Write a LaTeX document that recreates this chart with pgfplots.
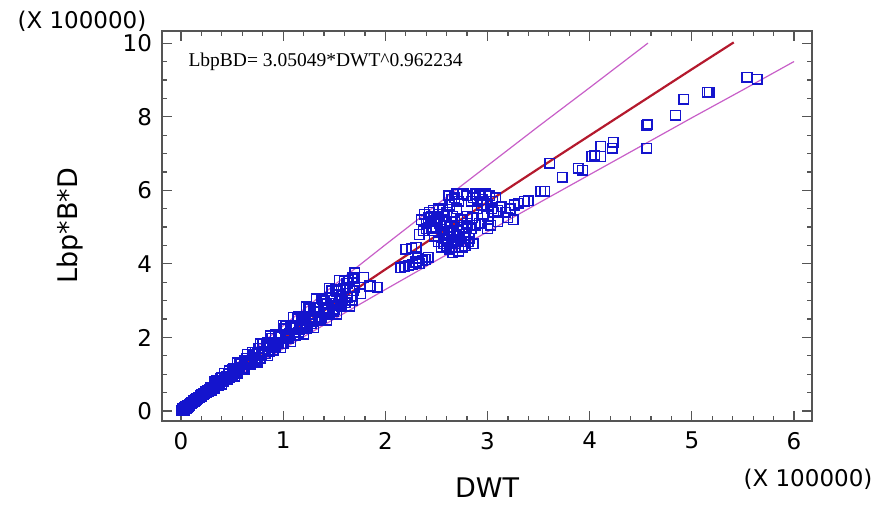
\documentclass[border=0pt]{standalone}
\usepackage{pgfplots}
\pgfplotsset{compat=1.18}
\usepackage{pgfplotstable}
\usepackage{fontspec}
\setmainfont{DejaVu Sans}
\newfontfamily\eqfont{Liberation Serif}
\definecolor{markblue}{RGB}{20,20,205}
\definecolor{fitred}{RGB}{180,25,45}
\definecolor{bandviolet}{RGB}{200,95,200}
\definecolor{framegray}{RGB}{85,85,85}

\pgfplotstableread{
x y
0.005 0.012
0.010 0.025
0.015 0.045
0.020 0.050
0.025 0.070
0.030 0.060
0.035 0.085
0.040 0.095
0.045 0.100
0.050 0.115
0.055 0.120
0.060 0.140
0.065 0.135
0.070 0.160
0.075 0.155
0.080 0.180
0.090 0.195
0.095 0.215
0.100 0.205
0.110 0.240
0.115 0.230
0.125 0.270
0.130 0.265
0.140 0.300
0.150 0.315
0.155 0.340
0.165 0.345
0.170 0.370
0.180 0.380
0.190 0.410
0.200 0.400
0.205 0.445
0.215 0.440
0.220 0.480
0.230 0.470
0.240 0.520
0.250 0.500
0.255 0.550
0.265 0.540
0.275 0.590
0.285 0.570
0.290 0.630
0.010 0.005
0.020 0.015
0.030 0.030
0.040 0.060
0.050 0.070
0.060 0.100
0.070 0.120
0.080 0.140
0.100 0.240
0.120 0.290
0.015 0.080
0.030 0.100
0.045 0.130
0.300 0.651
0.300 0.552
0.325 0.623
0.325 0.791
0.350 0.820
0.350 0.733
0.375 0.754
0.375 0.731
0.400 0.728
0.400 0.900
0.425 1.023
0.425 0.910
0.450 0.934
0.450 0.852
0.475 0.917
0.475 1.100
0.500 1.115
0.500 0.994
0.525 1.116
0.525 0.946
0.550 1.033
0.550 1.311
0.575 1.322
0.575 1.183
0.600 1.184
0.600 1.148
0.625 1.119
0.625 1.383
0.650 1.540
0.650 1.370
0.675 1.380
0.675 1.258
0.700 1.331
0.700 1.597
0.725 1.594
0.725 1.420
0.750 1.572
0.750 1.332
0.775 1.438
0.775 1.824
0.800 1.817
0.800 1.626
0.825 1.609
0.825 1.560
0.850 1.503
0.850 1.858
0.875 2.050
0.875 1.824
0.900 1.821
0.900 1.660
0.925 1.741
0.925 2.090
0.950 2.068
0.950 1.842
0.975 2.024
0.975 1.716
1.000 1.837
1.000 2.331
1.025 2.306
1.025 2.063
1.050 2.029
1.050 1.967
1.075 1.885
1.075 2.330
1.100 2.555
1.100 2.273
1.125 2.256
1.125 2.057
1.150 2.146
1.150 2.575
1.175 2.538
1.175 2.261
1.200 2.472
1.200 2.095
1.225 2.233
1.225 2.833
1.250 2.791
1.250 2.497
1.275 2.445
1.275 2.370
1.300 2.262
1.300 2.796
1.325 3.055
1.325 2.718
1.350 2.689
1.350 2.451
1.375 2.549
1.375 3.059
1.400 3.003
1.400 2.675
1.425 2.916
1.425 2.472
1.450 2.626
1.450 3.332
1.475 3.273
1.475 2.928
1.500 2.859
1.500 2.771
1.525 2.638
1.525 3.260
1.550 3.553
1.550 3.162
1.575 3.119
1.575 2.844
1.600 2.949
1.600 3.539
1.625 3.466
1.625 3.088
1.650 3.357
1.650 2.845
1.675 3.017
1.675 3.633
1.700 3.751
1.700 3.356
0.3125 0.645
0.3375 0.750
0.3625 0.699
0.3875 0.889
0.4125 0.817
0.4375 0.892
0.4625 1.016
0.4875 0.930
0.5125 1.163
0.5375 1.054
0.5625 1.136
0.5875 1.279
0.6125 1.159
0.6375 1.435
0.6625 1.289
0.6875 1.377
0.7125 1.539
0.7375 1.385
0.7625 1.704
0.7875 1.523
0.8125 1.618
0.8375 1.799
0.8625 1.610
0.8875 1.972
0.9125 1.755
0.9375 1.857
0.9625 2.056
0.9875 1.834
1.0125 2.239
1.0375 1.985
1.0625 2.094
1.0875 2.313
1.1125 2.057
1.1375 2.504
1.1625 2.215
1.1875 2.331
1.2125 2.568
1.2375 2.279
1.2625 2.768
1.2875 2.443
1.3125 2.566
1.3375 2.822
1.3625 2.500
1.3875 3.031
1.4125 2.671
1.4375 2.801
1.4625 3.075
1.4875 2.720
1.5125 3.293
1.5375 2.898
1.5625 3.035
1.5875 3.327
1.6125 2.940
1.6375 3.555
1.6625 3.124
1.6875 3.267
1.680 3.600
1.790 3.630
1.760 3.190
1.850 3.400
1.920 3.360
2.15 3.90
2.19 3.92
2.23 3.95
2.27 3.98
2.30 4.05
2.33 4.00
2.36 4.08
2.39 4.12
2.42 4.18
2.32 4.15
2.26 4.42
2.20 4.40
2.30 4.45
2.37 4.90
2.40 5.10
2.42 5.25
2.45 5.30
2.45 5.00
2.48 5.15
2.50 4.95
2.52 5.35
2.55 5.20
2.58 5.05
2.60 5.40
2.63 5.60
2.62 5.85
2.66 5.30
2.68 5.15
2.70 5.50
2.52 4.60
2.55 4.45
2.58 4.70
2.60 4.50
2.62 4.85
2.65 4.60
2.68 4.45
2.70 4.75
2.72 4.90
2.74 4.60
2.76 5.00
2.78 4.80
2.80 5.10
2.82 4.70
2.66 4.30
2.72 4.35
2.78 4.50
2.84 4.95
2.86 4.55
2.76 5.90
2.80 5.85
2.84 5.70
2.88 5.90
2.92 5.85
2.95 5.75
2.98 5.90
3.02 5.85
3.05 5.70
3.08 5.80
2.90 5.50
2.96 5.35
3.00 5.30
3.04 5.50
3.10 5.45
3.14 5.55
3.18 5.40
3.22 5.50
3.26 5.60
3.30 5.65
3.20 5.25
3.25 5.20
3.03 5.05
3.00 4.95
2.92 5.10
3.10 5.15
2.35 5.20
2.38 5.35
2.40 4.95
2.43 5.40
2.47 5.45
2.50 5.25
2.53 5.10
2.56 5.45
2.58 5.30
2.44 5.15
2.47 4.90
2.60 5.15
2.64 5.00
2.57 4.55
2.60 4.65
2.63 4.40
2.66 4.75
2.69 4.55
2.71 4.65
2.73 4.80
2.75 4.45
2.77 4.70
2.79 4.95
2.81 4.60
2.64 4.90
2.67 4.85
2.70 5.05
2.74 5.20
2.80 5.30
2.85 5.25
2.88 5.05
2.65 5.75
2.68 5.80
2.72 5.70
2.70 5.90
2.86 5.80
2.90 5.70
2.94 5.60
3.00 5.60
3.06 5.40
2.33 4.80
2.52 5.50
2.48 4.75
3.36 5.70
3.40 5.72
3.52 5.97
3.56 5.97
3.61 6.73
3.73 6.35
3.89 6.60
3.93 6.54
4.02 6.92
4.05 6.95
4.11 6.92
4.11 7.19
4.22 7.14
4.23 7.31
4.56 7.14
4.56 7.76
4.57 7.79
4.84 8.04
4.92 8.47
5.15 8.67
5.17 8.67
5.54 9.07
5.64 9.02
}\ptsdata

\pgfplotstableread{
x y
0.00 0.000
0.05 0.111
0.10 0.216
0.20 0.420
0.30 0.620
0.50 1.014
0.75 1.497
1.00 1.975
1.50 2.917
2.00 3.850
2.50 4.770
3.00 5.680
3.50 6.590
4.00 7.490
4.50 8.390
5.00 9.290
5.41 10.020
}\fitdata

\pgfplotstableread{
x y
0.15 0.373
0.50 1.190
1.00 2.319
1.50 3.425
2.00 4.520
2.50 5.600
3.00 6.670
3.50 7.740
4.00 8.790
4.57 10.000
}\upperband

\pgfplotstableread{
x y
0.15 0.273
0.50 0.870
1.00 1.695
1.50 2.503
2.00 3.303
2.50 4.093
3.00 4.873
3.50 5.654
4.00 6.426
4.50 7.198
5.00 7.971
5.50 8.730
6.00 9.500
}\lowerband

\begin{document}
\begin{tikzpicture}
\begin{axis}[
  name=ax,
  scale only axis,
  width=325pt, height=195pt,
  xmin=-0.186, xmax=6.176,
  ymin=-0.27, ymax=10.33,
  xtick={0,1,2,3,4,5,6},
  ytick={0,2,4,6,8,10},
  minor x tick num=4,
  minor y tick num=3,
  tick align=inside,
  major tick length=5pt,
  minor tick length=2.5pt,
  axis line style={draw=framegray, line width=0.8pt},
  every tick/.style={framegray, line width=0.6pt},
  /pgf/number format/assume math mode=true,
  ticklabel style={font=\fontsize{11.5}{13}\selectfont},
  xticklabel style={yshift=-2pt},
  yticklabel style={xshift=-1.5pt},
  xlabel={DWT},
  ylabel={Lbp*B*D},
  label style={font=\fontsize{13.5}{16}\selectfont},
  xlabel style={at={(axis description cs:0.5,-0.1718)}, anchor=center},
  ylabel style={at={(axis description cs:-0.1415,0.5)}, anchor=center},
]
\addplot[only marks, mark=square, mark size=2.4pt, draw=markblue, line width=0.75pt, mark options={fill=none}] table {\ptsdata};
\addplot[bandviolet, line width=0.6pt] table {\upperband};
\addplot[bandviolet, line width=0.6pt] table {\lowerband};
\addplot[fitred, line width=1.1pt] table {\fitdata};
\node[anchor=west, inner sep=0pt, font=\eqfont\fontsize{9.75}{11}\selectfont] at (axis cs:0.07,9.48) {LbpBD= 3.05049*DWT\textasciicircum 0.962234};
\end{axis}
\node[font=\fontsize{11.5}{13}\selectfont, anchor=center] at ([shift={(-40pt,5pt)}]ax.north west) {(X 100000)};
\node[font=\fontsize{11.5}{13}\selectfont, anchor=center] at ([shift={(-2pt,-29pt)}]ax.south east) {(X 100000)};
\pgfresetboundingbox
\path ([shift={(-81pt,-42.5pt)}]ax.south west) rectangle ([shift={(35.5pt,15.5pt)}]ax.north east);
\end{tikzpicture}
\end{document}
